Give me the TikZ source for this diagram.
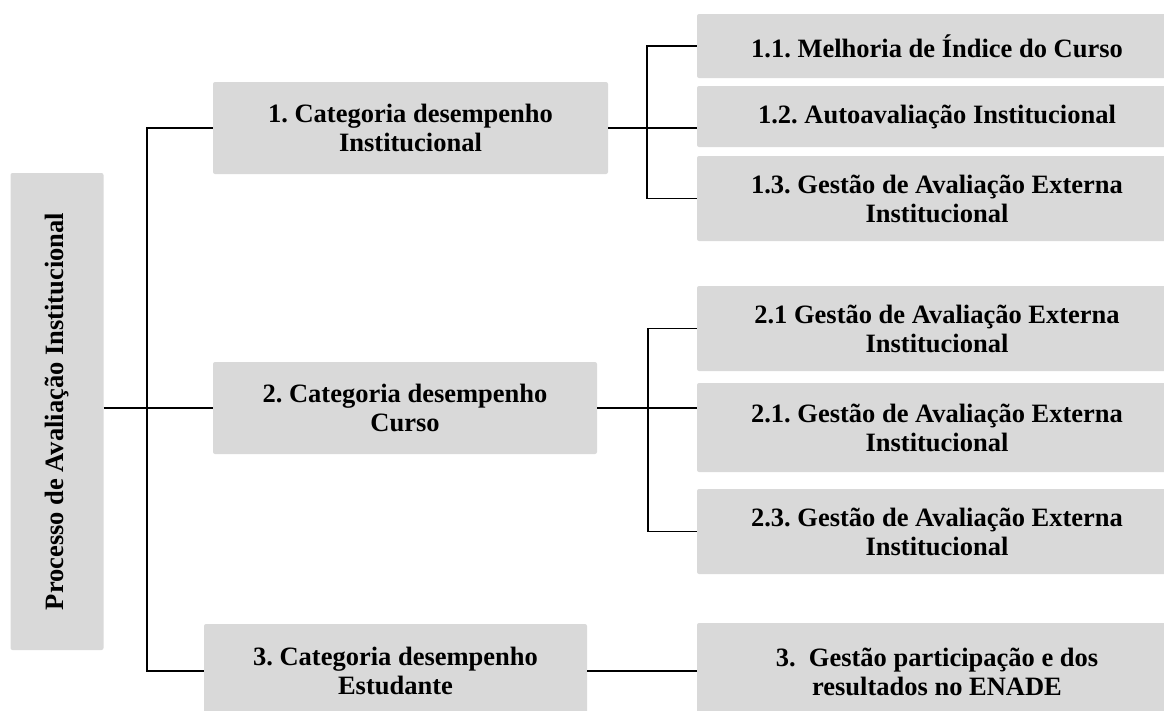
\documentclass[tikz,border=0pt]{standalone}
\usepackage{fontspec}
\setmainfont{Liberation Serif}
\definecolor{boxgray}{HTML}{D9D9D9}
\frenchspacing
\begin{document}
\begin{tikzpicture}[x=1pt,y=-1pt,
	box/.style={fill=boxgray,rounded corners=2pt,inner sep=0pt,align=center,
		font=\fontsize{26.5}{29}\selectfont\bfseries},
	link/.style={black,line width=1.8pt}]
	\clip (0,0) rectangle (1164,710);
	% Root
	\node[box,minimum width=477,minimum height=93,rotate=90] (proc) at (57,411.5) {Processo de Avaliação Institucional};
	% Categories
	\node[box,minimum width=395,minimum height=92] (cat1) at (410.5,128) {1. Categoria desempenho\\Institucional};
	\node[box,minimum width=384,minimum height=92] (cat2) at (405,408) {2. Categoria desempenho\\Curso};
	\node[box,minimum width=383,minimum height=94] (cat3) at (395.5,671) {3. Categoria desempenho\\Estudante};
	% Sub items
	\node[box,minimum width=480,minimum height=64] (sub11) at (937,46) {1.1. Melhoria de Índice do Curso};
	\node[box,minimum width=480,minimum height=61] (sub12) at (937,116.5) {1.2. Autoavaliação Institucional};
	\node[box,minimum width=480,minimum height=85] (sub13) at (937,198.5) {1.3. Gestão de Avaliação Externa\\Institucional};
	\node[box,minimum width=480,minimum height=85] (sub21) at (937,328.5) {2.1 Gestão de Avaliação Externa\\Institucional};
	\node[box,minimum width=480,minimum height=89] (sub22) at (937,427.5) {2.1. Gestão de Avaliação Externa\\Institucional};
	\node[box,minimum width=480,minimum height=85] (sub23) at (937,531.5) {2.3. Gestão de Avaliação Externa\\Institucional};
	\node[box,minimum width=480,minimum height=98] (sub3) at (937,672) {3.\ \ Gestão participação e dos\\resultados no ENADE};
	%Connectors
	\draw[link] (cat1.west) -- ++(-66,0) |- (cat3.west);
	\draw[link] (proc.south |- cat2.west) -- (cat2.west);
	\draw[link] (sub11.west) -- ++(-50,0) |- (sub13.west);
	\draw[link] (cat1.east) -- (cat1.east -| sub12.west);
	\draw[link] (sub21.west) -- ++(-49,0) |- (sub23.west);
	\draw[link] (cat2.east) -- (cat2.east -| sub22.west);
	\draw[link] (cat3.east) -- (cat3.east -| sub3.west);
\end{tikzpicture}
\end{document}
